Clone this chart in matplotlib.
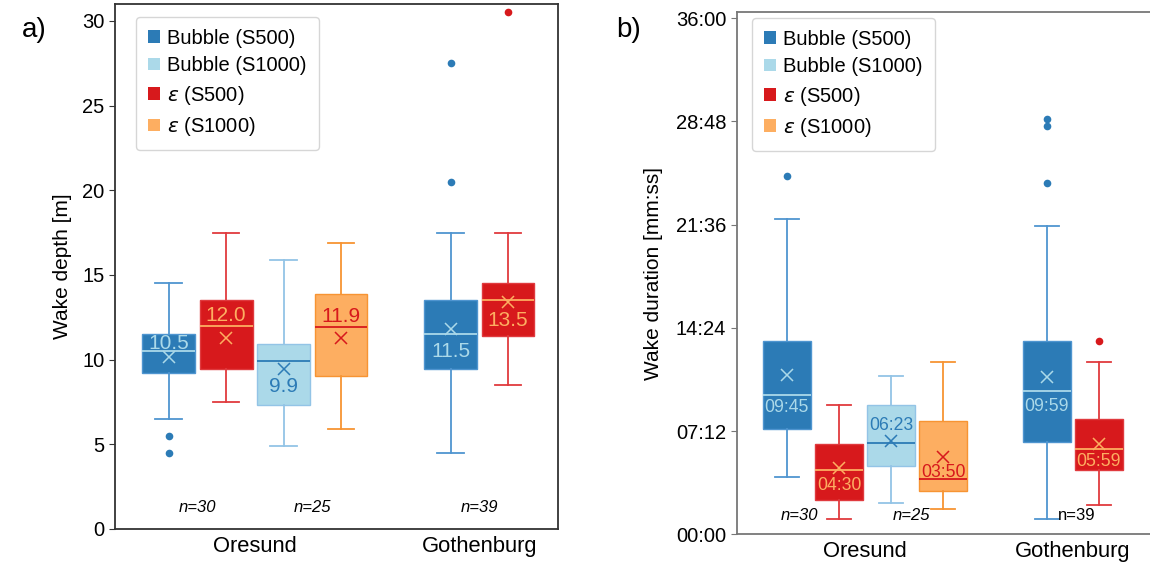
import matplotlib
matplotlib.use("Agg")
import matplotlib.pyplot as plt
from matplotlib.patches import Patch
from matplotlib.ticker import FuncFormatter, MultipleLocator

plt.rcParams['font.family'] = ['Liberation Sans', 'DejaVu Sans']
plt.rcParams['mathtext.fontset'] = 'dejavusans'

# group order: Oresund Bubble S500, Oresund eps S500, Oresund Bubble S1000,
# Oresund eps S1000, Gothenburg Bubble S500, Gothenburg eps S500
series_names = ['Bubble (S500)', 'Bubble (S1000)', r'$\varepsilon$ (S500)', r'$\varepsilon$ (S1000)']
box_series = [0, 2, 1, 3, 0, 2]
categories = ['Oresund', 'Gothenburg']

# a) wake depth [m]
depth_med = [10.5, 12.0, 9.9, 11.9, 11.5, 13.5]
depth_q1 = [9.2, 9.45, 7.35, 9.05, 9.45, 11.4]
depth_q3 = [11.5, 13.5, 10.9, 13.9, 13.5, 14.5]
depth_lo = [6.5, 7.5, 4.9, 5.9, 4.5, 8.5]
depth_hi = [14.5, 17.5, 15.9, 16.9, 17.5, 17.5]
depth_mean = [10.15, 11.3, 9.45, 11.3, 11.8, 13.4]
depth_fliers = [[5.5, 4.5], [], [], [], [20.5, 27.5], [30.5]]

# b) wake duration [s]
dur_med = [585, 270, 383, 230, 599, 359]
dur_q1 = [440, 142, 284, 182, 387, 269]
dur_q3 = [811, 378, 540, 475, 811, 481]
dur_lo = [241, 63, 131, 107, 63, 122]
dur_hi = [1319, 540, 661, 721, 1289, 721]
dur_mean = [668, 276, 390, 325, 659, 378]
dur_fliers = [[1499], [], [], [], [1469, 1709, 1738], [811]]

n_labels = ['n=30', 'n=25', 'n=39']

# styling
face_colors = ['#2c7bb6', '#abd9e9', '#d7191c', '#fdae61']
whisk_colors = ['#4f95d0', '#93c4e6', '#e03a3e', '#f79433']
med_colors = ['#abd9e9', '#2c7bb6', '#fdae61', '#d7191c']


def mmss(v, pos=None):
    v = int(round(v))
    return '%02d:%02d' % (v // 60, v % 60)


def draw_boxes(ax, pos, med, q1, q3, lo, hi, mean, fliers):
    for i in range(len(pos)):
        s = box_series[i]
        stats = [dict(med=med[i], q1=q1[i], q3=q3[i], whislo=lo[i], whishi=hi[i],
                      mean=mean[i], fliers=fliers[i])]
        ax.bxp(stats, positions=[pos[i]], widths=0.92, patch_artist=True,
               showmeans=True, manage_ticks=False,
               boxprops=dict(facecolor=face_colors[s], edgecolor=whisk_colors[s], linewidth=1),
               whiskerprops=dict(color=whisk_colors[s], linewidth=1.3),
               capprops=dict(color=whisk_colors[s], linewidth=1.3),
               medianprops=dict(color=med_colors[s], linewidth=1.3),
               meanprops=dict(marker='x', markeredgecolor=med_colors[s], markersize=9,
                              markeredgewidth=1.1),
               flierprops=dict(marker='o', markerfacecolor=face_colors[s],
                               markeredgecolor='none', markersize=5.5))


def style_axis(ax, spine_color):
    for sp in ax.spines.values():
        sp.set_color(spine_color)
        sp.set_linewidth(1.3)
    ax.tick_params(axis='y', labelsize=14.5, length=4, color=spine_color)
    ax.tick_params(axis='x', labelsize=15.8, length=0, pad=5)


fig = plt.figure(figsize=(11.5, 5.64), dpi=100)
ax1 = fig.add_axes([0.1, 0.0621, 0.3852, 0.9308])
ax2 = fig.add_axes([0.6406, 0.0527, 0.3594, 0.9255])

legend_handles = [Patch(facecolor=c, edgecolor='none') for c in face_colors]

# ---- panel a
pos1 = [0, 1, 2, 3, 4.91, 5.91]
draw_boxes(ax1, pos1, depth_med, depth_q1, depth_q3, depth_lo, depth_hi, depth_mean, depth_fliers)
offs1 = [1.9, 3.4, -22, 3.8, -16.6, -18.7]
for i in range(len(pos1)):
    ax1.annotate('%.1f' % depth_med[i], (pos1[i], depth_med[i]), xytext=(0, offs1[i]),
                 textcoords='offset points', ha='center', va='baseline',
                 fontsize=15, color=med_colors[box_series[i]])
n_x1 = [0.5, 2.5, 5.41]
for x, t in zip(n_x1, n_labels):
    ax1.text(x, 1.24, t, ha='center', va='center', fontsize=12, style='italic')
ax1.set_xlim(-0.935, 6.78)
ax1.set_ylim(0, 31)
ax1.yaxis.set_major_locator(MultipleLocator(5))
ax1.set_xticks([1.5, 5.41])
ax1.set_xticklabels(categories)
ax1.set_ylabel('Wake depth [m]', fontsize=15, labelpad=7)
style_axis(ax1, '#333333')
ax1.legend(legend_handles, series_names, loc='upper left', bbox_to_anchor=(0.047, 0.976),
           borderaxespad=0, fontsize=14.5, handlelength=0.6, handleheight=0.6,
           handletextpad=0.35, labelspacing=0.42, borderpad=0.6)

# ---- panel b
pos2 = [0, 1, 2, 3, 4.98, 5.98]
draw_boxes(ax2, pos2, dur_med, dur_q1, dur_q3, dur_lo, dur_hi, dur_mean, dur_fliers)
offs2 = [-12.5, -14.6, 8.9, 1.7, -14.4, -12.7]
for i in range(len(pos2)):
    ax2.annotate(mmss(dur_med[i]), (pos2[i], dur_med[i]), xytext=(0, offs2[i]),
                 textcoords='offset points', ha='center', va='baseline',
                 fontsize=12.7, color=med_colors[box_series[i]])
n_x2 = [0.25, 2.39, 5.55]
n_style2 = ['italic', 'italic', 'normal']
for x, t, st in zip(n_x2, n_labels, n_style2):
    ax2.text(x, 80, t, ha='center', va='center', fontsize=12, style=st)
ax2.set_xlim(-0.96, 6.96)
ax2.set_ylim(0, 2185)
ax2.yaxis.set_major_locator(MultipleLocator(432))
ax2.yaxis.set_major_formatter(FuncFormatter(mmss))
ax2.set_xticks([1.5, 5.48])
ax2.set_xticklabels(categories)
ax2.set_ylabel('Wake duration [mm:ss]', fontsize=15, labelpad=9)
style_axis(ax2, '#777777')
ax2.spines['right'].set_visible(False)
ax2.legend(legend_handles, series_names, loc='upper left', bbox_to_anchor=(0.0377, 0.99),
           borderaxespad=0, fontsize=14.5, handlelength=0.6, handleheight=0.6,
           handletextpad=0.35, labelspacing=0.42, borderpad=0.6)

fig.text(0.0187, 0.947, 'a)', fontsize=20, ha='left', va='center')
fig.text(0.5362, 0.947, 'b)', fontsize=20, ha='left', va='center')

fig.savefig('out.png', dpi=100)
plt.close(fig)
